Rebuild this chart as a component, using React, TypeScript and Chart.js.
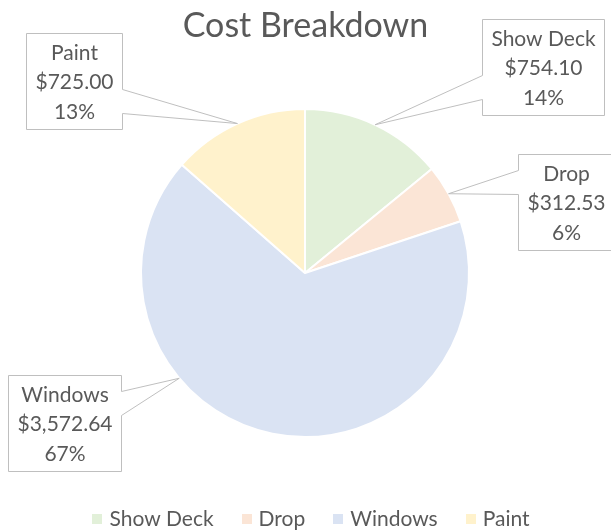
import React, { useEffect, useRef } from "react";
import { Chart, registerables } from "chart.js";

Chart.register(...registerables);

// ---- data ----
const TITLE = "Cost Breakdown";
const categories = ["Show Deck", "Drop", "Windows", "Paint"];
const costs = [754.1, 312.53, 3572.64, 725.0];
const sliceColors = ["#E2F0D9", "#FBE5D6", "#DAE3F3", "#FFF2CC"];

// ---- layout / style ----
const W = 611;
const H = 531;
const FONT = "Lato, 'Open Sans', sans-serif";
const TEXT_COLOR = "#595959";
const LINE_COLOR = "#BFBFBF";
const TITLE_SIZE = 34;
const LABEL_SIZE = 21;
const LEGEND_SIZE = 21;

// callout box placement (center x, top y) and where its pointer meets the slice (fraction of slice sweep)
const calloutLayout = [
  { cx: 543, top: 19, anchor: 0.5 },
  { cx: 566, top: 154, anchor: 0.5 },
  { cx: 64.5, top: 375, anchor: 0.661 },
  { cx: 73.5, top: 33, anchor: 0.5 },
];

function money(v: number): string {
  const [intPart, dec] = v.toFixed(2).split(".");
  return "$" + intPart.replace(/\B(?=(\d{3})+(?!\d))/g, ",") + "." + dec;
}

// whole percentages that add up to 100 (largest remainder)
function percents(vals: number[]): number[] {
  const total = vals.reduce((a, b) => a + b, 0);
  const raw = vals.map((v) => (v / total) * 100);
  const out = raw.map((r) => Math.floor(r));
  let left = 100 - out.reduce((a, b) => a + b, 0);
  const order = raw
    .map((r, i) => ({ i, rem: r - Math.floor(r) }))
    .sort((a, b) => b.rem - a.rem);
  for (let k = 0; k < order.length && left > 0; k++, left--) out[order[k].i] += 1;
  return out;
}

const decorPlugin = {
  id: "decor",
  afterDatasetsDraw(chart: any) {
    const ctx: CanvasRenderingContext2D = chart.ctx;
    const meta = chart.getDatasetMeta(0);
    const pcts = percents(costs);
    ctx.save();
    ctx.font = `${LABEL_SIZE}px ${FONT}`;
    meta.data.forEach((arc: any, i: number) => {
      const { x, y, startAngle, endAngle, outerRadius } = arc.getProps(
        ["x", "y", "startAngle", "endAngle", "outerRadius"],
        true
      );
      const cfg = calloutLayout[i];
      const a = startAngle + cfg.anchor * (endAngle - startAngle);
      const px = x + outerRadius * Math.cos(a);
      const py = y + outerRadius * Math.sin(a);
      const lines = [categories[i], money(costs[i]), pcts[i] + "%"];
      const tw = Math.max(...lines.map((l) => ctx.measureText(l).width));
      const bw = Math.round(tw + 18);
      const bh = 96;
      const left = Math.round(cfg.cx - bw / 2) + 0.5;
      const top = cfg.top + 0.5;
      const right = left + bw;
      const bottom = top + bh;
      const b1 = Math.min(Math.max(py - 24, top + 16), bottom - 40);
      const b2 = b1 + 24;
      ctx.beginPath();
      ctx.moveTo(left, top);
      ctx.lineTo(right, top);
      if (px > right) {
        ctx.lineTo(right, b1);
        ctx.lineTo(px, py);
        ctx.lineTo(right, b2);
      }
      ctx.lineTo(right, bottom);
      ctx.lineTo(left, bottom);
      if (px < left) {
        ctx.lineTo(left, b2);
        ctx.lineTo(px, py);
        ctx.lineTo(left, b1);
      }
      ctx.closePath();
      ctx.fillStyle = "#ffffff";
      ctx.fill();
      ctx.strokeStyle = LINE_COLOR;
      ctx.lineWidth = 1;
      ctx.stroke();
      ctx.fillStyle = TEXT_COLOR;
      ctx.textAlign = "center";
      ctx.textBaseline = "alphabetic";
      const tcx = (left + right) / 2;
      lines.forEach((l, k) => ctx.fillText(l, tcx, cfg.top + 27 + k * 29.3));
    });
    ctx.restore();
  },
  afterDraw(chart: any) {
    const ctx: CanvasRenderingContext2D = chart.ctx;
    ctx.save();
    // title
    ctx.fillStyle = TEXT_COLOR;
    ctx.font = `${TITLE_SIZE}px ${FONT}`;
    ctx.textAlign = "center";
    ctx.textBaseline = "alphabetic";
    ctx.fillText(TITLE, W / 2, 37);
    // legend
    ctx.font = `${LEGEND_SIZE}px ${FONT}`;
    ctx.textAlign = "left";
    const box = 10;
    const gap = 7;
    const spacing = 28;
    const widths = categories.map((c) => box + gap + ctx.measureText(c).width);
    const total = widths.reduce((a, b) => a + b, 0) + spacing * (categories.length - 1);
    let xx = 311 - total / 2;
    categories.forEach((c, i) => {
      ctx.fillStyle = sliceColors[i];
      ctx.fillRect(Math.round(xx), 514, box, box);
      ctx.fillStyle = TEXT_COLOR;
      ctx.fillText(c, xx + box + gap, 526);
      xx += widths[i] + spacing;
    });
    ctx.restore();
  },
};

export default function App() {
  const ref = useRef<HTMLCanvasElement | null>(null);
  useEffect(() => {
    if (!ref.current) return;
    const chart = new Chart(ref.current, {
      type: "pie",
      data: {
        labels: categories,
        datasets: [
          {
            data: costs,
            backgroundColor: sliceColors,
            borderColor: "#ffffff",
            borderWidth: 2,
            radius: 164,
          } as any,
        ],
      },
      options: {
        animation: false,
        responsive: false,
        devicePixelRatio: 1,
        events: [],
        layout: { padding: { top: 109, bottom: 94, left: 141, right: 142 } },
        plugins: {
          legend: { display: false },
          title: { display: false },
          tooltip: { enabled: false },
        },
      },
      plugins: [decorPlugin],
    });
    return () => chart.destroy();
  }, []);
  return (
    <div style={{ position: "absolute", left: 0, top: 0, width: W, height: H, background: "#fff" }}>
      <canvas ref={ref} width={W} height={H} style={{ display: "block" }} />
    </div>
  );
}
